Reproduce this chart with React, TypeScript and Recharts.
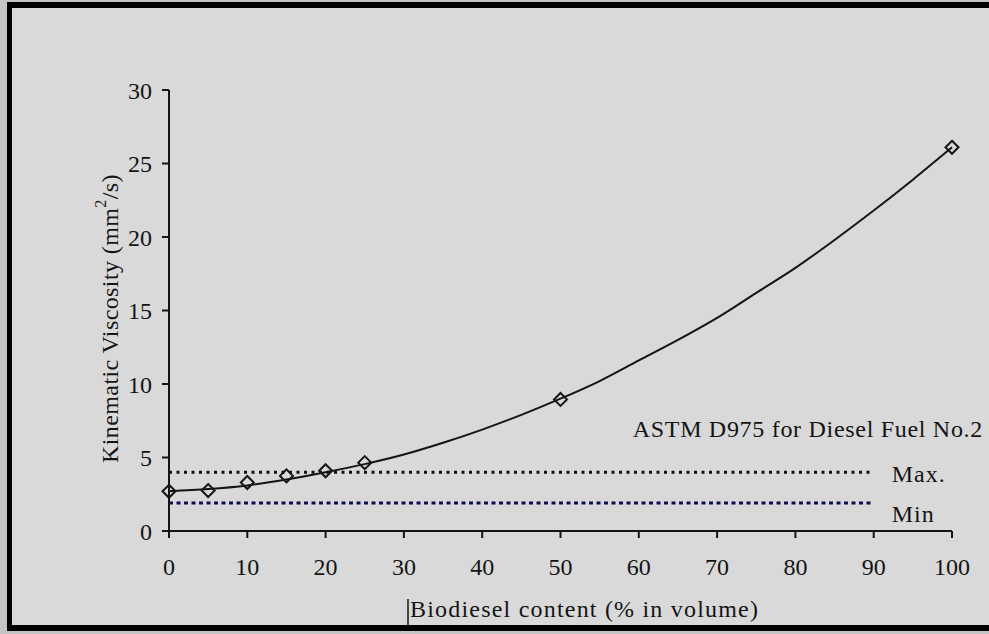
import React from 'react';
import {
  ComposedChart,
  Line,
  Scatter,
  XAxis,
  YAxis,
  ReferenceLine,
  Label,
} from 'recharts';

// Measured blends: biodiesel share (% vol) and kinematic viscosity (mm²/s)
const blendPercent = [0, 5, 10, 15, 20, 25, 50, 100];
const blendViscosity = [2.7, 2.75, 3.3, 3.75, 4.1, 4.65, 8.95, 26.1];

// Fitted trend curve through the blends
const trendPercent = [0, 5, 10, 15, 20, 25, 30, 35, 40, 45, 50, 55, 60, 65, 70, 75, 80, 85, 90, 95, 100];
const trendViscosity = [2.7, 2.85, 3.1, 3.5, 4.0, 4.55, 5.2, 6.0, 6.9, 7.9, 9.0, 10.2, 11.6, 13.0, 14.5, 16.2, 17.9, 19.8, 21.8, 23.9, 26.1];

// ASTM D975 limits for No.2 diesel
const astmMax = 4.0;
const astmMin = 1.9;
const limitStart = 0;
const limitEnd = 90;

const xTicks = [0, 10, 20, 30, 40, 50, 60, 70, 80, 90, 100];
const yTicks = [0, 5, 10, 15, 20, 25, 30];

const trendData = trendPercent.map((x, i) => ({ x, y: trendViscosity[i] }));
const blendData = blendPercent.map((x, i) => ({ x, y: blendViscosity[i] }));

const FONT = "'Liberation Serif', 'Times New Roman', serif";
const INK = '#141414';
const FS = 24;

const Diamond = (props: any) => {
  const { cx, cy } = props;
  if (cx == null || cy == null) return null;
  const r = 6.5;
  return (
    <polygon
      points={`${cx},${cy - r} ${cx + r},${cy} ${cx},${cy + r} ${cx - r},${cy}`}
      fill="none"
      stroke={INK}
      strokeWidth={2}
    />
  );
};

const YTitle = (props: any) => {
  const vb = props.viewBox || {};
  const cx = vb.x + 1;
  const cy = vb.y + vb.height / 2 + 8;
  return (
    <text
      x={cx}
      y={cy}
      transform={`rotate(-90 ${cx} ${cy})`}
      textAnchor="middle"
      dominantBaseline="central"
      fontFamily={FONT}
      fontSize={FS}
      letterSpacing={0.4}
      fill={INK}
    >
      Kinematic Viscosity (mm
      <tspan fontSize={16} dy={-10}>2</tspan>
      <tspan dy={10}>/s)</tspan>
    </text>
  );
};

const XTitle = (props: any) => {
  const vb = props.viewBox || {};
  const x0 = vb.x + 241;
  const base = vb.y + 86;
  return (
    <g>
      <line x1={x0 - 2} y1={base - 18} x2={x0 - 2} y2={base + 8} stroke={INK} strokeWidth={1.5} />
      <text x={x0} y={base} fontFamily={FONT} fontSize={FS} letterSpacing={1.2} fill={INK}>
        Biodiesel content (% in volume)
      </text>
    </g>
  );
};

const MaxLabel = (props: any) => {
  const vb = props.viewBox || {};
  const endX = vb.x + vb.width;
  return (
    <g>
      <text
        x={983}
        y={vb.y - 35}
        textAnchor="end"
        fontFamily={FONT}
        fontSize={FS}
        letterSpacing={0.7}
        fill={INK}
      >
        ASTM D975 for Diesel Fuel No.2
      </text>
      <text x={endX + 18} y={vb.y + 10} fontFamily={FONT} fontSize={FS} letterSpacing={1} fill={INK}>
        Max.
      </text>
    </g>
  );
};

const MinLabel = (props: any) => {
  const vb = props.viewBox || {};
  const endX = vb.x + vb.width;
  return (
    <text x={endX + 18} y={vb.y + 19} fontFamily={FONT} fontSize={FS} letterSpacing={1} fill={INK}>
      Min
    </text>
  );
};

export default function App() {
  return (
    <div style={{ position: 'relative', width: 989, height: 634, overflow: 'hidden', background: '#c4c4c4' }}>
      <style>{`body { margin: 0; }`}</style>
      <div
        style={{
          position: 'absolute',
          left: 7,
          top: 2,
          width: 1000,
          height: 629,
          boxSizing: 'border-box',
          borderLeft: '5px solid #000',
          borderTop: '6px solid #000',
          borderBottom: '6px solid #000',
          background: '#d9d9d9',
        }}
      />
      <div style={{ position: 'absolute', left: 0, top: 0 }}>
        <ComposedChart
          width={989}
          height={634}
          data={trendData}
          margin={{ top: 90, right: 37, bottom: 63, left: 109 }}
        >
          <XAxis
            dataKey="x"
            type="number"
            domain={[0, 100]}
            ticks={xTicks}
            interval={0}
            height={40}
            axisLine={{ stroke: INK, strokeWidth: 2 }}
            tickLine={{ stroke: INK, strokeWidth: 2 }}
            tickSize={7}
            tickMargin={20}
            tick={{ fontFamily: FONT, fontSize: FS, fill: INK }}
            label={<Label content={XTitle} />}
          />
          <YAxis
            type="number"
            domain={[0, 30]}
            ticks={yTicks}
            interval={0}
            width={60}
            axisLine={{ stroke: INK, strokeWidth: 2 }}
            tickLine={{ stroke: INK, strokeWidth: 2 }}
            tickSize={7}
            tickMargin={10}
            tick={{ fontFamily: FONT, fontSize: FS, fill: INK }}
            label={<Label content={YTitle} />}
          />
          <ReferenceLine
            segment={[{ x: limitStart, y: astmMax }, { x: limitEnd, y: astmMax }]}
            stroke="#111111"
            strokeWidth={3}
            strokeDasharray="3 4.5"
            label={<Label content={MaxLabel} />}
          />
          <ReferenceLine
            segment={[{ x: limitStart, y: astmMin }, { x: limitEnd, y: astmMin }]}
            stroke="#101050"
            strokeWidth={3}
            strokeDasharray="4 3.5"
            label={<Label content={MinLabel} />}
          />
          <Line
            dataKey="y"
            type="monotone"
            stroke={INK}
            strokeWidth={2}
            dot={false}
            activeDot={false}
            isAnimationActive={false}
          />
          <Scatter
            data={blendData}
            dataKey="y"
            shape={Diamond}
            isAnimationActive={false}
          />
        </ComposedChart>
      </div>
    </div>
  );
}
